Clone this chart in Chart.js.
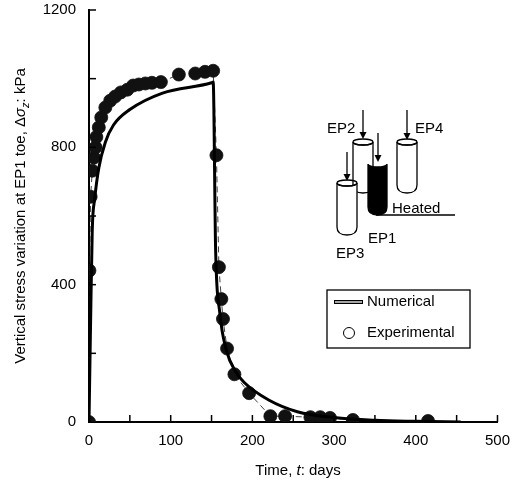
<!DOCTYPE html>
<html>
<head>
<meta charset="utf-8">
<script src="https://cdn.jsdelivr.net/npm/chart.js@4"></script>
<style>
  html, body { margin: 0; padding: 0; background: #fff; }
  #wrap { width: 520px; height: 486px; }
</style>
</head>
<body>
<div id="wrap"><canvas id="c" width="520" height="486"></canvas></div>
<script>
// Experimental data: time (days), stress (kPa)
const expDays = [0, 0.5, 2, 4, 6, 8, 9, 12, 15, 20, 26, 32, 39, 47, 54, 61, 69, 77, 88, 110, 130, 142, 152,
                 156, 159, 162, 164, 169, 178, 196, 222, 240, 271, 283, 295, 323, 415];
const expStress = [0, 441, 656, 732, 770, 800, 830, 858, 887, 916, 936, 948, 960, 968, 980, 983, 986, 988, 990, 1012, 1015, 1020, 1023,
                   777, 451, 358, 300, 214, 139, 84, 17, 17, 14, 14, 12, 6, 3];

// Numerical curve
const numDays = [0, 2, 4, 7, 12, 20, 30, 50, 90, 150, 152, 155, 160, 168, 180, 190, 220, 255, 300, 350, 400, 455];
const numStress = [0, 300, 560, 650, 740, 815, 865, 910, 958, 988, 990, 500, 320, 210, 145, 115, 64, 30, 13, 5, 2, 0];

// Axis tick labels
const yTickLabels = [0, 400, 800, 1200];

const FONT = '"Liberation Sans", Arial, sans-serif';

const decor = {
  id: 'decor',
  afterDraw(chart) {
    const ctx = chart.ctx;
    const xs = chart.scales.x, ys = chart.scales.y;
    ctx.save();
    ctx.strokeStyle = '#000';
    ctx.fillStyle = '#000';
    // inward ticks
    ctx.lineWidth = 1.5;
    for (let v = 50; v <= 500; v += 50) {
      const px = xs.getPixelForValue(v);
      ctx.beginPath(); ctx.moveTo(px, ys.bottom); ctx.lineTo(px, ys.bottom - 7); ctx.stroke();
    }
    for (let v = 200; v <= 1200; v += 200) {
      const py = ys.getPixelForValue(v);
      ctx.beginPath(); ctx.moveTo(xs.left, py); ctx.lineTo(xs.left + 7, py); ctx.stroke();
    }
    // y tick labels
    ctx.font = '15px ' + FONT;
    ctx.textAlign = 'right';
    ctx.textBaseline = 'middle';
    yTickLabels.forEach(v => ctx.fillText(String(v), 76, ys.getPixelForValue(v)));
    ctx.textAlign = 'left';
    // x axis title
    ctx.textBaseline = 'alphabetic';
    let t1 = 'Time, ', t2 = 't', t3 = ': days';
    ctx.font = '15px ' + FONT;
    let w1 = ctx.measureText(t1).width, w3 = ctx.measureText(t3).width;
    ctx.font = 'italic 15px ' + FONT;
    let w2 = ctx.measureText(t2).width;
    let x0 = 298 - (w1 + w2 + w3) / 2, by = 475;
    ctx.font = '15px ' + FONT; ctx.fillText(t1, x0, by);
    ctx.font = 'italic 15px ' + FONT; ctx.fillText(t2, x0 + w1, by);
    ctx.font = '15px ' + FONT; ctx.fillText(t3, x0 + w1 + w2, by);
    // y axis title (rotated)
    ctx.save();
    ctx.translate(20, 216);
    ctx.rotate(-Math.PI / 2);
    const parts = [
      ['Vertical stress variation at EP1 toe, Δ', '15px ', 0],
      ['σ', 'italic 15px ', 0],
      ['z', 'italic 11px ', 4],
      [': kPa', '15px ', 0]
    ];
    let tw = 0;
    parts.forEach(p => { ctx.font = p[1] + FONT; tw += ctx.measureText(p[0]).width; });
    let cx = -tw / 2;
    parts.forEach(p => { ctx.font = p[1] + FONT; ctx.fillText(p[0], cx, 5 + p[2]); cx += ctx.measureText(p[0]).width; });
    ctx.restore();

    // inset piles
    function pile(x1, x2, yt, yb, filled) {
      const w = x2 - x1, cxp = (x1 + x2) / 2;
      ctx.beginPath();
      ctx.moveTo(x1, yt);
      ctx.lineTo(x1, yb - 8);
      ctx.quadraticCurveTo(x1, yb, cxp, yb);
      ctx.quadraticCurveTo(x2, yb, x2, yb - 8);
      ctx.lineTo(x2, yt);
      ctx.ellipse(cxp, yt, w / 2, 3, 0, 0, Math.PI, false);
      ctx.closePath();
      ctx.fillStyle = filled ? '#000' : '#fff';
      ctx.fill();
      ctx.lineWidth = 1.3;
      ctx.stroke();
      if (!filled) {
        ctx.beginPath(); ctx.ellipse(cxp, yt, w / 2, 3, 0, 0, Math.PI * 2); ctx.stroke();
      }
    }
    function arrow(x, y1, y2) {
      ctx.lineWidth = 1.3;
      ctx.beginPath(); ctx.moveTo(x, y1); ctx.lineTo(x, y2 - 4); ctx.stroke();
      ctx.fillStyle = '#000';
      ctx.beginPath(); ctx.moveTo(x - 3.5, y2 - 7); ctx.lineTo(x + 3.5, y2 - 7); ctx.lineTo(x, y2); ctx.closePath(); ctx.fill();
    }
    pile(353, 373, 142, 193, false);
    pile(397, 417, 142, 193, false);
    pile(368, 387, 164, 215, true);
    pile(337, 357, 183, 235, false);
    arrow(363, 110, 139);
    arrow(407, 110, 140);
    arrow(378, 133, 162);
    arrow(347, 152, 181);
    ctx.lineWidth = 1.3;
    ctx.beginPath(); ctx.moveTo(376, 215); ctx.lineTo(455, 215); ctx.stroke();
    ctx.fillStyle = '#000';
    ctx.font = '15px ' + FONT;
    ctx.fillText('EP2', 327, 133);
    ctx.fillText('EP4', 415, 133);
    ctx.fillText('Heated', 392, 213);
    ctx.fillText('EP1', 368, 243);
    ctx.fillText('EP3', 336, 258);

    // legend
    ctx.lineWidth = 1.3;
    ctx.strokeRect(327, 290, 143, 58);
    ctx.lineWidth = 4;
    ctx.beginPath(); ctx.moveTo(334, 302); ctx.lineTo(363, 302); ctx.stroke();
    ctx.strokeStyle = '#fff'; ctx.lineWidth = 1.3;
    ctx.beginPath(); ctx.moveTo(335, 302); ctx.lineTo(362, 302); ctx.stroke();
    ctx.strokeStyle = '#000'; ctx.lineWidth = 1;
    ctx.beginPath(); ctx.arc(349, 333, 5.5, 0, Math.PI * 2); ctx.stroke();
    ctx.textBaseline = 'middle';
    ctx.fillText('Numerical', 367, 302);
    ctx.fillText('Experimental', 367, 333);
    ctx.restore();
  }
};

new Chart(document.getElementById('c'), {
  type: 'scatter',
  data: {
    datasets: [
      {
        label: 'Experimental',
        data: expDays.map((d, i) => ({ x: d, y: expStress[i] })),
        backgroundColor: '#111',
        borderColor: '#111',
        pointRadius: 6.5,
        showLine: true,
        borderWidth: 0.8,
        borderDash: [6, 4],
        order: 2
      },
      {
        label: 'Numerical',
        data: numDays.map((d, i) => ({ x: d, y: numStress[i] })),
        showLine: true,
        borderColor: '#000',
        borderWidth: 3,
        pointRadius: 0,
        cubicInterpolationMode: 'monotone',
        order: 1
      }
    ]
  },
  options: {
    responsive: false,
    animation: false,
    layout: { padding: { top: 10, right: 13, left: 0, bottom: 0 } },
    plugins: { legend: { display: false }, tooltip: { enabled: false } },
    scales: {
      x: {
        type: 'linear', min: 0, max: 500,
        afterFit: s => { s.height = 64; },
        grid: { drawOnChartArea: false, drawTicks: false },
        border: { color: '#000', width: 2 },
        ticks: {
          stepSize: 50, padding: 10, color: '#000',
          font: { size: 15, family: FONT },
          callback: v => (v % 100 === 0 ? v : '')
        }
      },
      y: {
        type: 'linear', min: 0, max: 1200,
        afterFit: s => { s.width = 89; },
        grid: { drawOnChartArea: false, drawTicks: false },
        border: { color: '#000', width: 2 },
        ticks: { display: false, stepSize: 200 }
      }
    }
  },
  plugins: [decor]
});
</script>
</body>
</html>
